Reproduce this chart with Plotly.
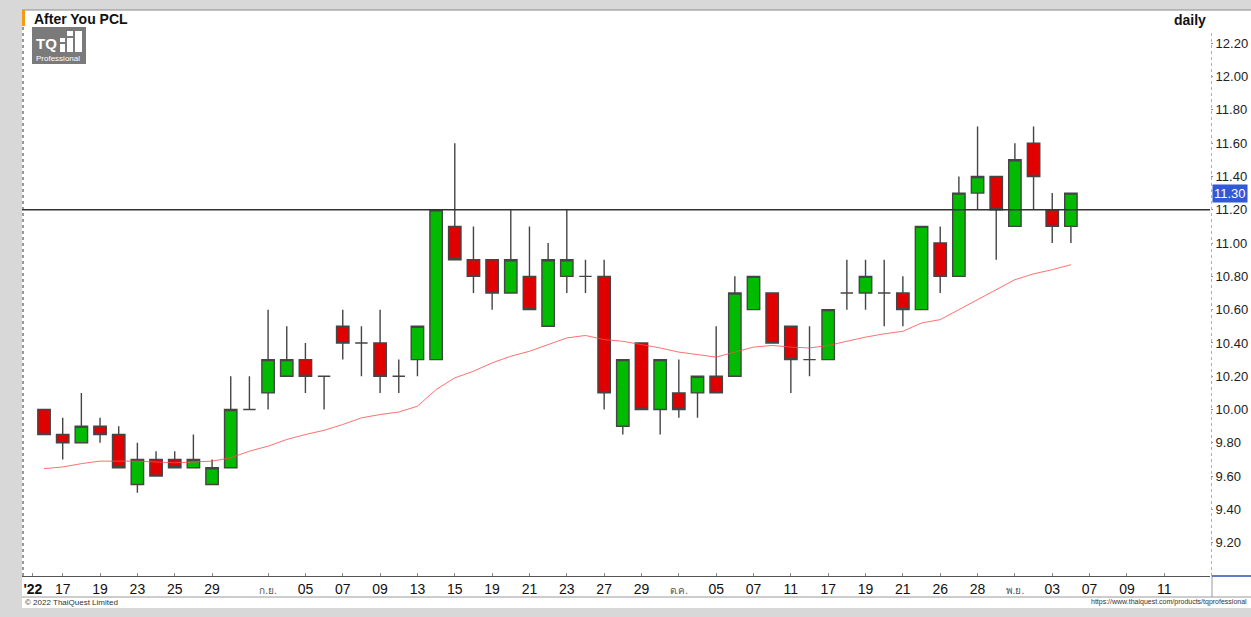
import plotly.graph_objects as go

# ---------------- data ----------------
SYMBOL = "After You PCL"
PERIOD = "daily"

open_ = [10.00, 9.85, 9.80, 9.90, 9.85, 9.55, 9.70, 9.70, 9.65, 9.55,
         9.65, 10.00, 10.10, 10.20, 10.30, 10.20, 10.50, 10.40, 10.40, 10.20,
         10.30, 10.30, 11.10, 10.90, 10.90, 10.70, 10.80, 10.50, 10.80, 10.80,
         10.80, 9.90, 10.40, 10.00, 10.10, 10.10, 10.20, 10.20, 10.60, 10.70,
         10.50, 10.30, 10.30, 10.70, 10.70, 10.70, 10.70, 10.60, 11.00, 10.80,
         11.30, 11.40, 11.10, 11.60, 11.20, 11.10]
high = [10.00, 9.95, 10.10, 9.95, 9.90, 9.80, 9.75, 9.75, 9.85, 9.70,
        10.20, 10.20, 10.60, 10.50, 10.40, 10.20, 10.60, 10.50, 10.60, 10.30,
        10.50, 11.20, 11.60, 11.10, 10.90, 11.20, 11.10, 11.00, 11.20, 10.90,
        10.90, 10.30, 10.40, 10.30, 10.30, 10.20, 10.50, 10.80, 10.80, 10.70,
        10.50, 10.50, 10.60, 10.90, 10.90, 10.90, 10.80, 11.10, 11.10, 11.40,
        11.70, 11.40, 11.60, 11.70, 11.30, 11.30]
low = [9.85, 9.70, 9.80, 9.80, 9.65, 9.50, 9.60, 9.65, 9.65, 9.55,
       9.65, 10.00, 10.00, 10.20, 10.10, 10.00, 10.30, 10.20, 10.10, 10.10,
       10.20, 10.30, 10.90, 10.70, 10.60, 10.70, 10.60, 10.50, 10.70, 10.70,
       10.00, 9.85, 10.00, 9.85, 9.95, 9.95, 10.10, 10.20, 10.60, 10.40,
       10.10, 10.20, 10.30, 10.60, 10.60, 10.50, 10.50, 10.60, 10.70, 10.80,
       11.20, 10.90, 11.10, 11.20, 11.00, 11.00]
close = [9.85, 9.80, 9.90, 9.85, 9.65, 9.70, 9.60, 9.65, 9.70, 9.65,
         10.00, 10.00, 10.30, 10.30, 10.20, 10.20, 10.40, 10.40, 10.20, 10.20,
         10.50, 11.20, 10.90, 10.80, 10.70, 10.90, 10.60, 10.90, 10.90, 10.80,
         10.10, 10.30, 10.00, 10.30, 10.00, 10.20, 10.10, 10.70, 10.80, 10.40,
         10.30, 10.30, 10.60, 10.70, 10.80, 10.70, 10.60, 11.10, 10.80, 11.30,
         11.40, 11.20, 11.50, 11.40, 11.10, 11.30]
ma = [9.645, 9.655, 9.675, 9.69, 9.69, 9.69, 9.685, 9.68, 9.685, 9.69,
      9.71, 9.75, 9.78, 9.82, 9.85, 9.875, 9.91, 9.95, 9.97, 9.985,
      10.02, 10.12, 10.19, 10.23, 10.28, 10.32, 10.35, 10.39, 10.43, 10.445,
      10.42, 10.41, 10.39, 10.37, 10.345, 10.33, 10.315, 10.345, 10.375, 10.385,
      10.375, 10.37, 10.385, 10.41, 10.435, 10.455, 10.47, 10.52, 10.54, 10.60,
      10.66, 10.72, 10.78, 10.815, 10.84, 10.87]

x_idx = list(range(len(close)))

MONTH_STYLE = "<span style='font-size:10px;color:#555'>%s</span>"
tick_pos = [-0.6, 1, 3, 5, 7, 9, 12, 14, 16, 18, 20, 22, 24, 26, 28, 30, 32,
            34, 36, 38, 40, 42, 44, 46, 48, 50, 52, 54, 56, 58, 60]
tick_text = ["<b>'22</b>", "17", "19", "23", "25", "29", MONTH_STYLE % "ก.ย.",
             "05", "07", "09", "13", "15", "19", "21", "23", "27", "29",
             MONTH_STYLE % "ต.ค.", "05", "07", "11", "17", "19", "21", "26", "28",
             MONTH_STYLE % "พ.ย.", "03", "07", "09", "11"]
y_ticks = [9.2, 9.4, 9.6, 9.8, 10.0, 10.2, 10.4, 10.6, 10.8, 11.0,
           11.2, 11.4, 11.6, 11.8, 12.0, 12.2]
HLINE = 11.20
LAST = close[-1]

# ---------------- layout helpers ----------------
W, H = 1251, 617
ML, MR, MT, MB = 22, 41, 10, 41
PW, PH = W - ML - MR, H - MT - MB


def px(x):
    return (x - ML) / PW


def py(y):
    return (H - MB - y) / PH


FONT = "Liberation Sans, Arial, sans-serif"

fig = go.Figure()

fig.add_trace(go.Scatter(
    x=x_idx, y=ma, mode="lines",
    line=dict(color="#ff4d4d", width=1), opacity=0.8,
    hoverinfo="skip", showlegend=False))

fig.add_trace(go.Candlestick(
    x=x_idx, open=open_, high=high, low=low, close=close,
    increasing=dict(fillcolor="#00bb00", line=dict(color="#454545", width=1.4)),
    decreasing=dict(fillcolor="#e00000", line=dict(color="#454545", width=1.4)),
    whiskerwidth=0, showlegend=False))

shapes = [
    # white panel
    dict(type="rect", xref="paper", yref="paper", x0=px(22), x1=px(1260),
         y0=py(608), y1=py(10), fillcolor="white", line=dict(width=0), layer="below"),
    # top border
    dict(type="line", xref="paper", yref="paper", x0=px(22), x1=px(1260),
         y0=py(10), y1=py(10), line=dict(color="#8a8a8a", width=1)),
    # orange marker
    dict(type="rect", xref="paper", yref="paper", x0=px(22), x1=px(25),
         y0=py(26), y1=py(10), fillcolor="#f39c12", line=dict(width=0)),
    # left dotted border
    dict(type="line", xref="paper", yref="paper", x0=px(23), x1=px(23),
         y0=py(576), y1=py(26), line=dict(color="#333333", width=1, dash="dot")),
    # right dotted yellow axis line
    dict(type="line", xref="paper", yref="paper", x0=px(1211.5), x1=px(1211.5),
         y0=py(576), y1=py(30), line=dict(color="#d9b428", width=1, dash="dot")),
    # horizontal level
    dict(type="line", xref="paper", yref="y", x0=0, x1=1, y0=HLINE, y1=HLINE,
         line=dict(color="#333333", width=1.5)),
    # bottom band lines
    dict(type="line", xref="paper", yref="paper", x0=px(22), x1=px(1260),
         y0=py(597), y1=py(597), line=dict(color="#9a9a9a", width=1)),
    dict(type="line", xref="paper", yref="paper", x0=px(1212), x1=px(1212),
         y0=py(597), y1=py(576), line=dict(color="#9a9a9a", width=1)),
    dict(type="line", xref="paper", yref="paper", x0=px(1212), x1=px(1260),
         y0=py(576), y1=py(576), line=dict(color="#2f4fb8", width=1.5)),
    # logo box
    dict(type="rect", xref="paper", yref="paper", x0=px(32), x1=px(86),
         y0=py(64), y1=py(27), fillcolor="#7a7a7a", line=dict(width=0)),
]
# logo bar icon
for (x0, x1, y0, y1) in [(60, 65, 44, 52), (67, 73, 38, 52), (75, 82, 31, 52),
                         (67, 73, 31, 36), (60, 65, 38, 42)]:
    shapes.append(dict(type="rect", xref="paper", yref="paper", x0=px(x0), x1=px(x1),
                       y0=py(y1), y1=py(y0), fillcolor="white", line=dict(width=0)))

annotations = [
    dict(text="<b>%s</b>" % SYMBOL, xref="paper", yref="paper", x=px(32), y=py(19),
         xanchor="left", yanchor="middle", showarrow=False,
         font=dict(family=FONT, size=14, color="#111")),
    dict(text="<b>%s</b>" % PERIOD, xref="paper", yref="paper", x=px(1208), y=py(20),
         xanchor="right", yanchor="middle", showarrow=False,
         font=dict(family=FONT, size=14, color="#111")),
    dict(text="%.2f" % LAST, xref="paper", yref="y", x=px(1212), y=LAST,
         xanchor="left", yanchor="middle", showarrow=False, bgcolor="#3158d6",
         borderpad=1, font=dict(family=FONT, size=13, color="white")),
    dict(text="<b>TQ</b>", xref="paper", yref="paper", x=px(34), y=py(44),
         xanchor="left", yanchor="middle", showarrow=False,
         font=dict(family=FONT, size=15, color="white")),
    dict(text="Professional", xref="paper", yref="paper", x=px(34), y=py(58),
         xanchor="left", yanchor="middle", showarrow=False,
         font=dict(family=FONT, size=8, color="white")),
    dict(text="© 2022 ThaiQuest Limited", xref="paper", yref="paper", x=px(23), y=py(602.5),
         xanchor="left", yanchor="middle", showarrow=False,
         font=dict(family=FONT, size=8, color="#333")),
    dict(text="https://www.thaiquest.com/products/tqprofessional", xref="paper", yref="paper",
         x=px(1249), y=py(602.5), xanchor="right", yanchor="middle", showarrow=False,
         font=dict(family=FONT, size=7, color="#333")),
]

fig.update_layout(
    width=W, height=H,
    margin=dict(l=ML, r=MR, t=MT, b=MB, pad=0, autoexpand=False),
    paper_bgcolor="#d8d8d8", plot_bgcolor="white",
    showlegend=False, shapes=shapes, annotations=annotations,
    boxgap=0.05, boxgroupgap=0.3,
    font=dict(family=FONT),
    xaxis=dict(range=[-1.18, 62.45], tickvals=tick_pos, ticktext=tick_text,
               showgrid=False, zeroline=False, showline=True, linecolor="#555",
               ticks="inside", ticklen=3, tickcolor="#888", automargin=False,
               tickfont=dict(family=FONT, size=14, color="#111"),
               rangeslider=dict(visible=False), fixedrange=True),
    yaxis=dict(side="right", range=[9.0, 12.4], tickvals=y_ticks, tickformat=".2f",
               showgrid=False, zeroline=False, showline=False, automargin=False,
               ticks="outside", ticklen=2, tickcolor="#888",
               tickfont=dict(family=FONT, size=13, color="#222"), fixedrange=True),
)

fig.write_html("out.html", config={"displayModeBar": False},
               post_script="document.body.style.margin='0';document.body.style.overflow='hidden';")
